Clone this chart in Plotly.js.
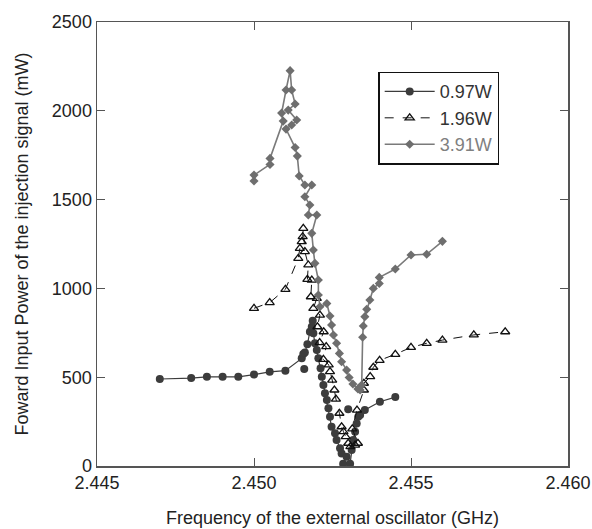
<!DOCTYPE html>
<html>
<head>
<meta charset="utf-8">
<script src="https://cdn.plot.ly/plotly-3.0.1.min.js"></script>
<style>html,body{margin:0;padding:0;background:#fff;}#chart{width:592px;height:529px;}</style>
</head>
<body>
<div id="chart"></div>
<script>
// 0.97W series (connected points)
const freq097 = [2.4470,2.4480,2.4485,2.4490,2.4495,2.4500,2.4505,2.4510,2.45152,2.45157,2.45162,2.45170,2.45178,2.45184,2.45187,2.45189,2.45194,2.45200,2.45205,2.45212,2.45216,2.45221,2.45226,2.45232,2.45237,2.45242,2.45247,2.45258,2.45263,2.45274,2.45279,2.45295,2.45284,2.45306,2.45311,2.45316,2.45322,2.45327,2.45332,2.45338,2.45353,2.45401,2.4545];
const pow097  = [490,495,502,502,502,515,530,537,606,631,639,685,756,784,818,747,691,653,606,550,503,456,409,372,325,278,221,184,146,100,71,52,12,12,90,146,193,240,278,287,315,362,388];
// 0.97W isolated points
const freq097Iso = [2.45160,2.45300];
const pow097Iso  = [546,319];
// 1.96W series
const freq196 = [2.4500,2.4505,2.4510,2.45141,2.45146,2.45152,2.45155,2.45157,2.45162,2.45173,2.45170,2.45184,2.45181,2.45200,2.45189,2.45210,2.45202,2.45222,2.45209,2.45230,2.45221,2.45238,2.45242,2.45249,2.45256,2.45261,2.45272,2.45279,2.45285,2.45292,2.45300,2.45307,2.45322,2.45331,2.45313,2.45328,2.4535,2.4535,2.4537,2.4538,2.4540,2.4545,2.4550,2.4555,2.4560,2.4570,2.4580];
const pow196  = [888,920,995,1169,1225,1263,1291,1338,1207,1132,1051,1047,953,944,888,850,784,756,695,672,600,569,531,484,428,377,297,221,193,165,128,109,118,128,209,315,428,466,503,556,595,629,668,691,709,738,756];
// 3.91W series
const freq391 = [2.4500,2.4500,2.45051,2.45051,2.45093,2.45088,2.45102,2.45115,2.45120,2.45131,2.45109,2.45136,2.45120,2.45102,2.45131,2.45138,2.45144,2.45162,2.45184,2.45162,2.45178,2.45173,2.45200,2.45184,2.45189,2.45194,2.45205,2.45205,2.45210,2.45232,2.45242,2.45247,2.45253,2.45263,2.45272,2.45279,2.45295,2.45303,2.45315,2.45331,2.45338,2.45343,2.45346,2.45348,2.45353,2.45359,2.45369,2.45380,2.45399,2.45399,2.4545,2.4550,2.4555,2.4560];
const pow391  = [1605,1638,1698,1732,1942,1987,2117,2226,2117,2038,2004,1948,1920,1897,1793,1745,1633,1582,1582,1516,1470,1413,1413,1310,1216,1141,1047,963,897,915,845,794,738,691,634,587,540,498,462,434,428,456,725,788,841,882,935,1000,1028,1062,1109,1188,1192,1265];

const xTicks = [2.445,2.450,2.455,2.460];
const xTickLabels = ['2.445','2.450','2.455','2.460'];
const yTicks = [0,500,1000,1500,2000,2500];

const c097 = '#3c3c3c';
const traces = [
  {x:freq097, y:pow097, name:'0.97W', type:'scatter', mode:'lines+markers',
   line:{color:c097, width:1.2},
   marker:{symbol:'circle', size:8, color:c097}},
  {x:freq196, y:pow196, name:'1.96W', type:'scatter', mode:'lines+markers',
   line:{color:'#111', width:1, dash:'dash'},
   marker:{symbol:'triangle-up-open', size:8, color:'#111', line:{width:1.3}}},
  {x:freq391, y:pow391, name:'<span style="color:#808080">3.91W</span>', type:'scatter', mode:'lines+markers',
   line:{color:'#7a7a7a', width:1.6},
   marker:{symbol:'diamond', size:7, color:'#6e6e6e'}},
  {x:freq097Iso, y:pow097Iso, name:'0.97W', showlegend:false, type:'scatter', mode:'markers',
   marker:{symbol:'circle', size:8, color:c097}}
];

const layout = {
  width:592, height:529,
  margin:{l:97, r:24, t:22, b:63},
  paper_bgcolor:'#fff', plot_bgcolor:'#fff',
  font:{family:'Liberation Sans, Arial, sans-serif', size:18, color:'#222'},
  showlegend:true,
  legend:{x:0.597, y:0.888, xanchor:'left', yanchor:'top',
    bgcolor:'#fff', bordercolor:'#111', borderwidth:1.5,
    font:{size:18, color:'#333'}, tracegroupgap:0, itemwidth:50},
  xaxis:{range:[2.445,2.460], tickvals:xTicks, ticktext:xTickLabels,
    ticks:'inside', ticklen:8, tickcolor:'#555', showline:true, linecolor:'#555', linewidth:1.5,
    mirror:'ticks', showgrid:false, zeroline:false, automargin:false,
    tickfont:{size:18, color:'#222'},
    title:{text:'Frequency of the external oscillator (GHz)', font:{size:18, color:'#222'}, standoff:19}},
  yaxis:{range:[0,2500], tickvals:yTicks,
    ticks:'inside', ticklen:8, tickcolor:'#555', showline:true, linecolor:'#555', linewidth:1.5,
    mirror:'ticks', showgrid:false, zeroline:false, automargin:false,
    tickfont:{size:18, color:'#222'},
    title:{text:'Foward Input Power of the injection signal (mW)', font:{size:18, color:'#222'}, standoff:18}}
};

Plotly.newPlot('chart', traces, layout, {staticPlot:true, displayModeBar:false});
</script>
</body>
</html>
